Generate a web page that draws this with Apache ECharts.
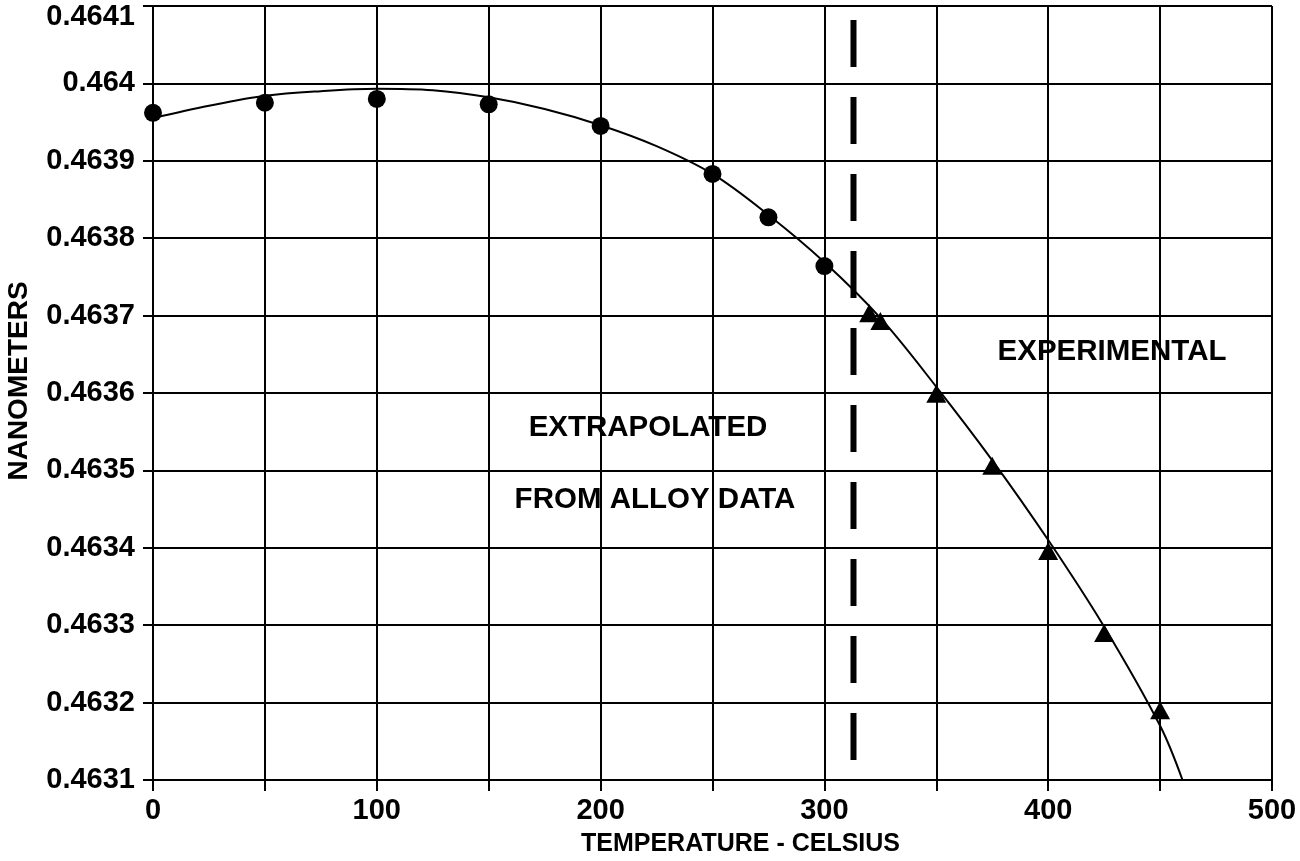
<!DOCTYPE html>
<html>
<head>
<meta charset="utf-8">
<script src="https://cdn.jsdelivr.net/npm/echarts@6/dist/echarts.min.js"></script>
<style>
html,body{margin:0;padding:0;background:#fff;}
#chart{width:1300px;height:861px;}
</style>
</head>
<body>
<div id="chart"></div>
<script>
// ---- data ----
const extrapolatedX = [0, 50, 100, 150, 200, 250, 275, 300];
const extrapolatedY = [0.463962, 0.463975, 0.463980, 0.463973, 0.463945, 0.463883, 0.463827, 0.463764];
const experimentalX = [320, 325, 350, 375, 400, 425, 450];
const experimentalY = [0.463703, 0.463693, 0.463599, 0.463506, 0.463396, 0.463290, 0.463190];
const fitX = [0, 25, 50, 75, 100, 125, 150, 175, 200, 225, 250, 275, 300, 325, 350, 375, 400, 425, 450, 460];
const fitY = [0.463955, 0.463971, 0.463984, 0.463990, 0.463993, 0.463991, 0.463982, 0.463967, 0.463946, 0.463919,
              0.463883, 0.463830, 0.463769, 0.463697, 0.463608, 0.463513, 0.463410, 0.463298, 0.463170, 0.463100];
const boundaryX = 313;
const boundaryY = [0.464082, 0.463124];
const xTicks = [0, 100, 200, 300, 400, 500];
const yTicks = ['0.4631','0.4632','0.4633','0.4634','0.4635','0.4636','0.4637','0.4638','0.4639','0.464','0.4641'];

const FONT = '"Liberation Sans", Arial, sans-serif';
const zip = (xs, ys) => xs.map((x, i) => [x, ys[i]]);

const chart = echarts.init(document.getElementById('chart'), null, {renderer: 'canvas'});
chart.setOption({
  animation: false,
  backgroundColor: '#fff',
  grid: {left: 153, right: 28, top: 6, bottom: 81, containLabel: false, outerBoundsMode: 'none'},
  xAxis: {
    type: 'value', min: 0, max: 500, interval: 50,
    name: 'TEMPERATURE - CELSIUS', nameLocation: 'middle', nameGap: 52,
    nameTextStyle: {fontFamily: FONT, fontWeight: 'bold', fontSize: 25, color: '#000', padding: [0, 0, 0, 56]},
    axisLine: {show: true, onZero: false, lineStyle: {color: '#000', width: 2}},
    axisTick: {show: true, length: 11, lineStyle: {color: '#000', width: 2}},
    axisLabel: {
      fontFamily: FONT, fontWeight: 'bold', fontSize: 29, color: '#000', margin: 16,
      formatter: v => xTicks.includes(v) ? String(v) : ''
    },
    splitLine: {show: true, lineStyle: {color: '#000', width: 2}}
  },
  yAxis: {
    type: 'value', min: 0.4631, max: 0.4641, interval: 0.0001,
    name: 'NANOMETERS', nameLocation: 'middle', nameGap: 120, nameRotate: 90,
    nameTextStyle: {fontFamily: FONT, fontWeight: 'bold', fontSize: 28, color: '#000', padding: [0, 0, 0, 24]},
    axisLine: {show: true, onZero: false, lineStyle: {color: '#000', width: 2}},
    axisTick: {show: true, length: 10, lineStyle: {color: '#000', width: 2}},
    axisLabel: {
      fontFamily: FONT, fontWeight: 'bold', fontSize: 29, color: '#000', margin: 18,
      formatter: v => {
        const s = (+(+v).toFixed(4)).toString();
        if (!yTicks.includes(s)) return '';
        return s === yTicks[yTicks.length - 1] ? '{top|' + s + '}' : s;
      },
      rich: {
        top: {fontFamily: FONT, fontWeight: 'bold', fontSize: 29, color: '#000', padding: [21, 0, 0, 0]}
      }
    },
    splitLine: {show: true, lineStyle: {color: '#000', width: 2}}
  },
  series: [
    {
      name: 'fit', type: 'line', data: zip(fitX, fitY), smooth: 0.35,
      showSymbol: false, symbol: 'none',
      lineStyle: {color: '#000', width: 2}, z: 3
    },
    {
      name: 'boundary', type: 'line', data: [[boundaryX, boundaryY[0]], [boundaryX, boundaryY[1]]],
      symbol: 'none', lineStyle: {color: '#000', width: 6, type: [47, 30]}, z: 3
    },
    {
      name: 'extrapolated', type: 'scatter', data: zip(extrapolatedX, extrapolatedY),
      symbol: 'circle', symbolSize: 18, itemStyle: {color: '#000', opacity: 1}, z: 5
    },
    {
      name: 'experimental', type: 'scatter', data: zip(experimentalX, experimentalY),
      symbol: 'triangle', symbolSize: [20, 18], itemStyle: {color: '#000', opacity: 1}, z: 5
    }
  ],
  graphic: [
    {type: 'text', x: 648, y: 428, style: {text: 'EXTRAPOLATED', align: 'center', verticalAlign: 'middle', fill: '#000', font: 'bold 29.5px ' + FONT}},
    {type: 'text', x: 655, y: 500, style: {text: 'FROM ALLOY DATA', align: 'center', verticalAlign: 'middle', fill: '#000', font: 'bold 29.5px ' + FONT}},
    {type: 'text', x: 1112, y: 352, style: {text: 'EXPERIMENTAL', align: 'center', verticalAlign: 'middle', fill: '#000', font: 'bold 29.5px ' + FONT}}
  ]
});
</script>
</body>
</html>
